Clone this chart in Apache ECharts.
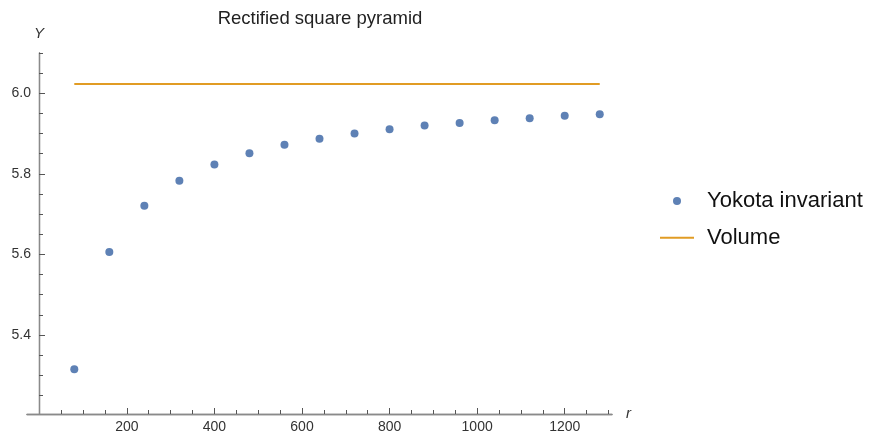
<!DOCTYPE html>
<html>
<head>
<meta charset="utf-8">
<title>Rectified square pyramid</title>
<script src="https://cdn.jsdelivr.net/npm/echarts@6/dist/echarts.min.js"></script>
<style>
  html, body { margin: 0; padding: 0; background: #fff; }
  #chartMain { width: 869px; height: 437px; }
</style>
</head>
<body>
<div id="chartMain"></div>
<script>
// r values and Yokota invariant readings
const rValues = [80, 160, 240, 320, 400, 480, 560, 640, 720, 800, 880, 960, 1040, 1120, 1200, 1280]
const yokota = [5.315, 5.606, 5.721, 5.783, 5.823, 5.851, 5.872, 5.887, 5.900, 5.911, 5.920, 5.926, 5.933, 5.938, 5.944, 5.948]
const volume = 6.023
const volumeRange = [80, 1280]

const xMajorTicks = [200, 400, 600, 800, 1000, 1200]
const xMinorTicks = [50, 100, 150, 250, 300, 350, 450, 500, 550, 650, 700, 750, 850, 900, 950, 1050, 1100, 1150, 1250, 1300]
const yMajorTicks = [5.4, 5.6, 5.8, 6.0]
const yMinorTicks = [5.25, 5.3, 5.35, 5.45, 5.5, 5.55, 5.65, 5.7, 5.75, 5.85, 5.9, 5.95, 6.05, 6.1]

const axisGray = '#8a8a8a'
const tickGray = '#555'
const labelColor = '#333'
const font = 'Liberation Sans, Arial, sans-serif'

const chart = echarts.init(document.getElementById('chartMain'))

// the x axis starts a bit left of r = 0, the y axis sits at r = 0 (offset -12px)
const xBase = {
  type: 'value',
  min: -28,
  max: 1308,
  position: 'bottom',
  splitLine: { show: false }
}
const yBase = {
  type: 'value',
  min: 5.204,
  max: 6.1,
  position: 'left',
  offset: -12,
  splitLine: { show: false }
}

const option = {
  animation: false,
  title: {
    text: 'Rectified square pyramid',
    left: 315,
    textAlign: 'center',
    top: 4,
    textStyle: { fontFamily: font, fontSize: 18.5, fontWeight: 'normal', color: '#222' }
  },
  legend: {
    orient: 'vertical',
    left: 655,
    top: 185,
    itemWidth: 34,
    itemHeight: 8,
    itemGap: 14.7,
    textStyle: { fontFamily: font, fontSize: 22, color: '#111', padding: [0, 0, 0, 8] },
    data: [
      { name: 'Yokota invariant', icon: 'circle' },
      { name: 'Volume', icon: 'path://M0,0H34V2H0Z' }
    ]
  },
  grid: { left: 27, right: 257, top: 53, bottom: 23, containLabel: false },
  xAxis: [
    Object.assign({}, xBase, {
      name: 'r',
      nameLocation: 'end',
      nameGap: 14,
      nameTextStyle: { fontFamily: font, fontStyle: 'italic', fontSize: 15, color: labelColor, verticalAlign: 'middle' },
      axisLine: { onZero: false, lineStyle: { color: axisGray, width: 1.3 } },
      axisTick: { inside: true, length: 6, customValues: xMajorTicks, lineStyle: { color: tickGray } },
      axisLabel: {
        customValues: xMajorTicks,
        fontFamily: font,
        fontSize: 14,
        color: labelColor,
        margin: 6,
        formatter: (v) => String(v)
      }
    }),
    Object.assign({}, xBase, {
      axisLine: { onZero: false, lineStyle: { color: axisGray, width: 1.3 } },
      axisTick: { inside: true, length: 4, customValues: xMinorTicks, lineStyle: { color: tickGray } },
      axisLabel: { show: false }
    })
  ],
  yAxis: [
    Object.assign({}, yBase, {
      name: 'Y',
      nameLocation: 'end',
      nameGap: 12,
      nameTextStyle: { fontFamily: font, fontStyle: 'italic', fontSize: 15, color: labelColor },
      axisLine: { show: true, onZero: false, lineStyle: { color: axisGray, width: 1.3 } },
      axisTick: { inside: true, length: 6, customValues: yMajorTicks, lineStyle: { color: tickGray } },
      axisLabel: {
        customValues: yMajorTicks,
        fontFamily: font,
        fontSize: 14,
        color: labelColor,
        margin: 8,
        formatter: (v) => v.toFixed(1)
      }
    }),
    Object.assign({}, yBase, {
      axisLine: { show: true, onZero: false, lineStyle: { color: axisGray, width: 1.3 } },
      axisTick: { inside: true, length: 4, customValues: yMinorTicks, lineStyle: { color: tickGray } },
      axisLabel: { show: false }
    })
  ],
  series: [
    {
      name: 'Yokota invariant',
      type: 'scatter',
      symbol: 'circle',
      symbolSize: 8,
      itemStyle: { color: '#5E81B5', opacity: 1 },
      data: rValues.map((r, i) => [r, yokota[i]])
    },
    {
      name: 'Volume',
      type: 'line',
      showSymbol: false,
      symbol: 'none',
      lineStyle: { color: '#E19C24', width: 2.2 },
      itemStyle: { color: '#E19C24' },
      data: volumeRange.map((r) => [r, volume])
    }
  ]
}

chart.setOption(option)
</script>
</body>
</html>
